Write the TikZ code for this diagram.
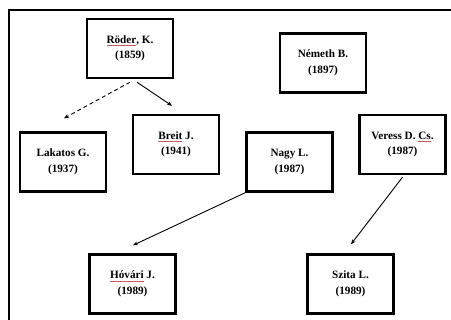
\documentclass[tikz,border=0pt]{standalone}
\usepackage{fontspec}
\setmainfont{Liberation Serif}
\usetikzlibrary{arrows.meta,calc}
\definecolor{spellred}{RGB}{205,90,90}
\newcommand\sq[1]{\sbox0{#1}\rlap{\raisebox{-2.2pt}{\textcolor{spellred}{\rule{\wd0}{0.4pt}}}}\usebox0}
\begin{document}
\begin{tikzpicture}[x=1pt,y=-1pt,
  box/.style={draw,line width=2.4pt,minimum width=86pt,minimum height=59pt,inner sep=1pt,align=center,
    font=\bfseries\fontsize{11.2}{15.5}\selectfont},
  arr/.style={line width=0.9pt,-{Stealth[length=5pt,width=4pt]}},
  frame/.style={line width=1.6pt}]
\useasboundingbox (0,0) rectangle (451,320);
\draw[frame] (9,320) -- (9,10) -- (451,10);
\node[box] (roder)   at (130,48.5)  {\sq{Röder}, K.\\(1859)};
\node[box] (nemeth)  at (323,63)    {Németh B.\\(1897)};
\node[box] (lakatos) at (63,162)    {Lakatos G.\\(1937)};
\node[box] (breit)   at (176,144.5) {\sq{Breit} J.\\(1941)};
\node[box] (nagy)    at (289.5,162) {Nagy L.\\(1987)};
\node[box] (veress)  at (402.5,144.5) {Veress D. \sq{Cs}.\\(1987)};
\node[box] (hovari)  at (132.5,284) {\sq{Hóvári} J.\\(1989)};
\node[box] (szita)   at (350.5,284) {Szita L.\\(1989)};
\draw[arr,dash pattern=on 4pt off 3pt] ($(roder.south)+(0,3)$) -- ($(lakatos.north)+(1,-13)$);
\draw[arr] ($(roder.south)+(7,3)$) -- ($(breit.north)+(-4,-8)$);
\draw[arr] (nagy.south west) -- ($(hovari.north)+(0.5,-8)$);
\draw[arr] ($(veress.south)+(0,2)$) -- ($(szita.north)+(0.5,-9)$);
\end{tikzpicture}
\end{document}
